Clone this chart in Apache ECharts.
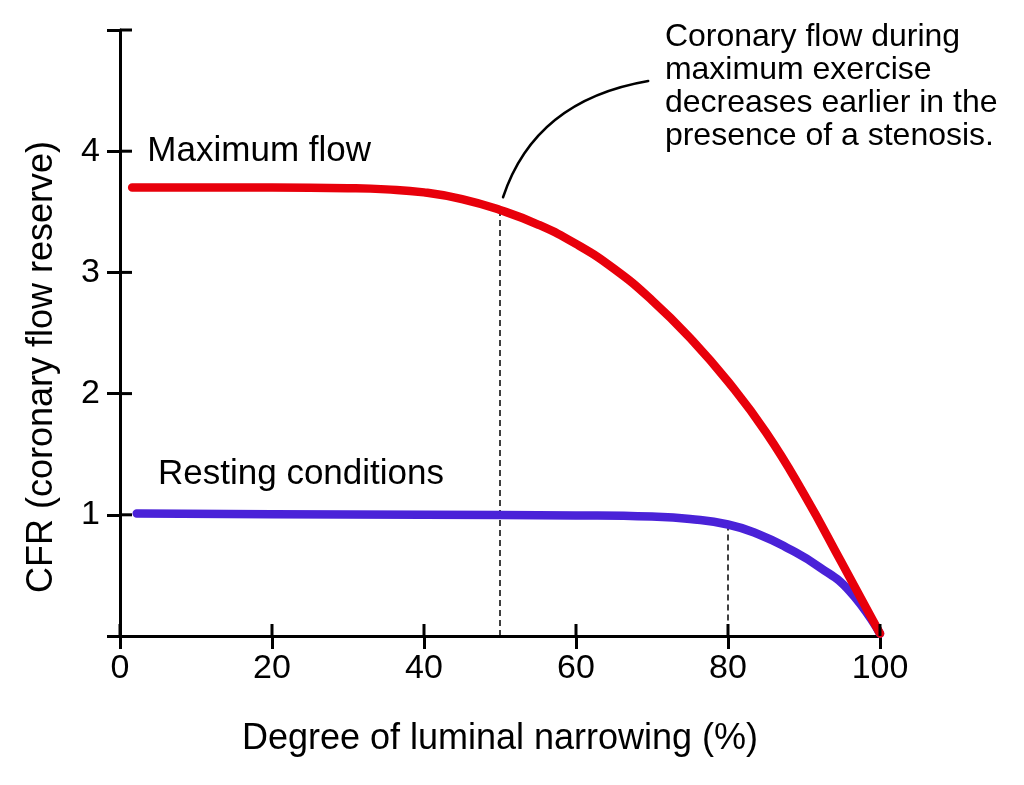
<!DOCTYPE html>
<html>
<head>
<meta charset="utf-8">
<script src="https://cdn.jsdelivr.net/npm/echarts@6/dist/echarts.min.js"></script>
<style>
html,body{margin:0;padding:0;background:#fff;}
#chart{width:1024px;height:785px;}
</style>
</head>
<body>
<div id="chart"></div>
<script>
// ---- data ----
var xTicks = [0, 20, 40, 60, 80, 100];
var yTicks = [1, 2, 3, 4, 5];
var yTickLabels = ['1', '2', '3', '4'];
var maxFlowX = [1.6, 10, 20, 30, 35, 40, 45, 50, 55, 60, 65, 70, 75, 80, 85, 90, 95, 100];
var maxFlowY = [3.70, 3.70, 3.70, 3.695, 3.685, 3.66, 3.605, 3.515, 3.395, 3.235, 3.03, 2.77, 2.46, 2.10, 1.68, 1.17, 0.60, 0.02];
var restX = [2.2, 20, 40, 60, 70, 75, 80, 84, 88, 92, 96, 100];
var restY = [1.01, 1.005, 1.0, 0.995, 0.985, 0.965, 0.92, 0.84, 0.72, 0.57, 0.37, 0.02];
var dropMaxX = 50;
var dropRestX = 80;
var labelMax = 'Maximum flow';
var labelRest = 'Resting conditions';
var noteLines = ['Coronary flow during', 'maximum exercise', 'decreases earlier in the', 'presence of a stenosis.'];
var xTitle = 'Degree of luminal narrowing (%)';
var yTitle = 'CFR (coronary flow reserve)';

var FONT = '"Liberation Sans", Arial, Helvetica, sans-serif';
var RED = '#e8000b';
var BLUE = '#4a22d8';

function pairs(xs, ys) { return xs.map(function (x, i) { return [x, ys[i]]; }); }
function lookup(xs, ys, x) { return ys[xs.indexOf(x)]; }

var chart = echarts.init(document.getElementById('chart'), null, {renderer: 'canvas'});

function lineSty() { return {color: '#000', width: 3}; }
var dashStyle = {color: '#000', width: 1.5, type: [6, 4]};

var option = {
  animation: false,
  backgroundColor: '#fff',
  grid: {left: 120, right: 144, top: 30, bottom: 149, containLabel: false},
  xAxis: {
    type: 'value', min: 0, max: 100, interval: 20, splitLine: {show: false}, position: 'bottom',
    axisLine: {show: true, onZero: false, lineStyle: lineSty()},
    axisTick: {show: true, inside: false, length: 13, lineStyle: lineSty()},
    axisLabel: {show: true, color: '#000', fontSize: 34, fontFamily: FONT, margin: 16,
      formatter: function (v) { return xTicks.indexOf(v) >= 0 ? String(v) : ''; }},
    name: xTitle, nameLocation: 'middle', nameGap: 85,
    nameTextStyle: {color: '#000', fontSize: 36, fontFamily: FONT}
  },
  yAxis: {
    type: 'value', min: 0, max: 5, interval: 1, splitLine: {show: false}, position: 'left',
    axisLine: {show: true, onZero: false, lineStyle: lineSty()},
    axisTick: {show: true, inside: false, length: 13, lineStyle: lineSty()},
    axisLabel: {show: true, color: '#000', fontSize: 34, fontFamily: FONT, margin: 20,
      formatter: function (v) { return yTickLabels.indexOf(String(v)) >= 0 ? String(v) : ''; }}
  },
  series: [
    {
      name: labelRest, type: 'line',
      data: pairs(restX, restY), smooth: 0.5,
      showSymbol: false, symbol: 'none', z: 3,
      lineStyle: {color: BLUE, width: 8.5, cap: 'round', join: 'round'},
      markLine: {
        silent: true, symbol: 'none', label: {show: false},
        lineStyle: dashStyle, z: 1,
        data: [[{coord: [dropRestX, lookup(restX, restY, dropRestX)]}, {coord: [dropRestX, 0]}]]
      }
    },
    {
      name: labelMax, type: 'line',
      data: pairs(maxFlowX, maxFlowY), smooth: 0.5,
      showSymbol: false, symbol: 'none', z: 4,
      lineStyle: {color: RED, width: 8.5, cap: 'round', join: 'round'},
      markLine: {
        silent: true, symbol: 'none', label: {show: false},
        lineStyle: dashStyle, z: 1,
        data: [[{coord: [dropMaxX, lookup(maxFlowX, maxFlowY, dropMaxX)]}, {coord: [dropMaxX, 0]}]]
      }
    }
  ]
};
chart.setOption(option);

function px(x, y) { return chart.convertToPixel({xAxisIndex: 0, yAxisIndex: 0}, [x, y]); }

var pMax = px(3.6, 4.0);
var pRest = px(5.0, 1.33);
var pNote = px(71.7, 5.08);
var pYTitle = px(-10.2, 2.22);
var c0 = px(50.4, 3.62), c1 = px(54.6, 4.42), c2 = px(69.5, 4.58);

var graphics = [
  {type: 'text', x: pMax[0], y: pMax[1], style: {text: labelMax, fill: '#000', font: '35px ' + FONT, textAlign: 'left', textVerticalAlign: 'middle'}},
  {type: 'text', x: pRest[0], y: pRest[1], style: {text: labelRest, fill: '#000', font: '35px ' + FONT, textAlign: 'left', textVerticalAlign: 'middle'}},
  {type: 'text', x: pNote[0], y: pNote[1], style: {text: noteLines.join('\n'), fill: '#000', font: '32px ' + FONT, lineHeight: 33, textAlign: 'left', textVerticalAlign: 'top'}},
  {type: 'text', x: pYTitle[0], y: pYTitle[1], rotation: Math.PI / 2, style: {text: yTitle, fill: '#000', font: '36px ' + FONT, textAlign: 'center', textVerticalAlign: 'middle'}},
  {type: 'bezierCurve', shape: {x1: c0[0], y1: c0[1], cpx1: c1[0], cpy1: c1[1], x2: c2[0], y2: c2[1]},
   style: {stroke: '#000', lineWidth: 2.5, fill: null, lineCap: 'round'}}
];
// inner halves of the crossing axis ticks
xTicks.forEach(function (v) {
  var p = px(v, 0);
  graphics.push({type: 'polyline', z: 100, shape: {points: [[p[0], p[1]], [p[0], p[1] - 12]]}, style: {stroke: '#000', lineWidth: 3, fill: null}});
});
yTicks.forEach(function (v) {
  var p = px(0, v);
  graphics.push({type: 'polyline', z: 100, shape: {points: [[p[0], p[1]], [p[0] + 12, p[1]]]}, style: {stroke: '#000', lineWidth: 3, fill: null}});
});
chart.setOption({graphic: graphics});
</script>
</body>
</html>
